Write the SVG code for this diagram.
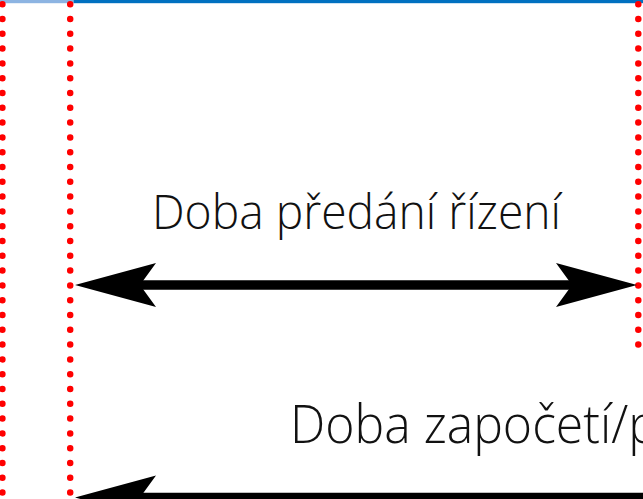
<svg xmlns="http://www.w3.org/2000/svg" xmlns:xlink="http://www.w3.org/1999/xlink" width="643" height="499" viewBox="0 0 643 499">
  <style>
    .dots { stroke: #FF0000; stroke-width: 6.5; stroke-linecap: round; stroke-dasharray: 0 14.8; fill: none; }
    .shaft { stroke: #000; stroke-width: 9.5; fill: none; }
    .head { fill: #000; }
    .lbl { font-family: "Open Sans", "Noto Sans", sans-serif; font-weight: 300; fill: #111111; }
  </style>
  <defs>
    <path id="headL" class="head" d="M0,0 L81,-22 L65,0 L81,22 Z"/>
  </defs>
  <rect width="643" height="499" fill="#ffffff"/>
  <g id="topbar">
    <rect x="0" y="0" width="73.5" height="3.2" fill="#8DB4E2"/>
    <rect x="73.5" y="0" width="569.5" height="3.2" fill="#0070C0"/>
  </g>
  <g id="guides">
    <line class="dots" x1="2.4" y1="4.2" x2="2.4" y2="505"/>
    <line class="dots" x1="70.2" y1="4.2" x2="70.2" y2="505"/>
    <line class="dots" x1="638.3" y1="4.2" x2="638.3" y2="356"/>
  </g>
  <g id="connectors">
    <g id="arrow-handover">
      <line class="shaft" x1="100" y1="285" x2="612" y2="285"/>
      <use xlink:href="#headL" transform="translate(75,285)"/>
      <use xlink:href="#headL" transform="translate(637,285) scale(-1,1)"/>
    </g>
    <g id="arrow-start">
      <line class="shaft" x1="100" y1="497.5" x2="660" y2="497.5"/>
      <use xlink:href="#headL" transform="translate(75,497.5)"/>
    </g>
  </g>
  <g id="labels">
    <text class="lbl" x="152" y="228.5" font-size="47.5" textLength="409" lengthAdjust="spacingAndGlyphs">Doba předání řízení</text>
    <text class="lbl" x="290" y="443.3" font-size="53" textLength="368" lengthAdjust="spacingAndGlyphs">Doba započetí/p</text>
  </g>
</svg>
